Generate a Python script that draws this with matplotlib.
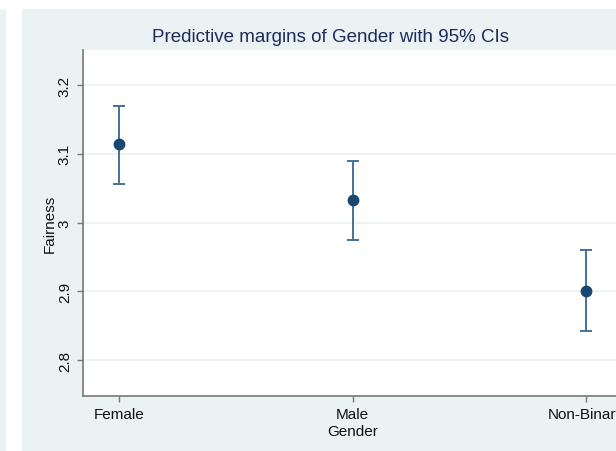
import matplotlib
matplotlib.use("Agg")
import matplotlib.pyplot as plt
from matplotlib.patches import Rectangle

categories = ["Female", "Male", "Non-Binary"]
margins = [3.114, 3.033, 2.901]
ci_low = [3.056, 2.975, 2.842]
ci_high = [3.170, 3.090, 2.960]
yticks = [2.8, 2.9, 3.0, 3.1, 3.2]
ytick_labels = ["2.8", "2.9", "3", "3.1", "3.2"]

plt.rcParams['font.family'] = ['Liberation Sans', 'DejaVu Sans']

W, H = 616, 452
fig = plt.figure(figsize=(W / 100, H / 100), dpi=100)
fig.patch.set_facecolor("white")

bg = "#eaf2f3"
# background panels
fig.patches.append(Rectangle((0, 0), 6 / W, (H - 10) / H, transform=fig.transFigure,
                             facecolor=bg, edgecolor="none", zorder=-10))
fig.patches.append(Rectangle((22 / W, 0), 1, (H - 10) / H, transform=fig.transFigure,
                             facecolor=bg, edgecolor="none", zorder=-10))

# axes: left 83 px, right 622 px (beyond crop), top 51, bottom 397
left, right, top, bottom = 83, 622, 51, 397
ax = fig.add_axes([left / W, 1 - bottom / H, (right - left) / W, (bottom - top) / H])
ax.set_zorder(1)
ax.set_facecolor("white")

x = list(range(1, len(categories) + 1))
yerr = [[m - l for m, l in zip(margins, ci_low)], [h - m for m, h in zip(margins, ci_high)]]
ax.errorbar(x, margins, yerr=yerr, fmt="none", ecolor="#45729a", elinewidth=1.4,
            capsize=4, capthick=1.4, zorder=3)
ax.plot(x, margins, "o", color="#1a476f", markersize=7.5, zorder=4)

ax.set_xlim(0.846, 3.154)
ax.set_ylim(2.748, 3.251)
ax.set_xticks(x)
ax.set_xticklabels(categories, fontsize=11, color="#111111")
ax.set_yticks(yticks)
ax.set_yticklabels(ytick_labels, fontsize=11, color="#111111", rotation=90, va="center")
ax.yaxis.grid(True, color="#edf3f3", linewidth=1.4)
ax.set_axisbelow(True)

for s in ["top", "right"]:
    ax.spines[s].set_visible(False)
for s in ["left", "bottom"]:
    ax.spines[s].set_color("#777777")
    ax.spines[s].set_linewidth(1.2)
ax.tick_params(axis="both", length=4, width=1, color="#777777", pad=4)

ax.set_xlabel("Gender", fontsize=11, color="#111111", labelpad=2)
ax.set_ylabel("Fairness", fontsize=11, color="#111111", labelpad=1)

fig.text(330 / W, 1 - 38 / H, "Predictive margins of Gender with 95% CIs",
         ha="center", va="center", fontsize=13.5, color="#1e2b5a")

fig.savefig("out.png", dpi=100, facecolor=fig.get_facecolor())
